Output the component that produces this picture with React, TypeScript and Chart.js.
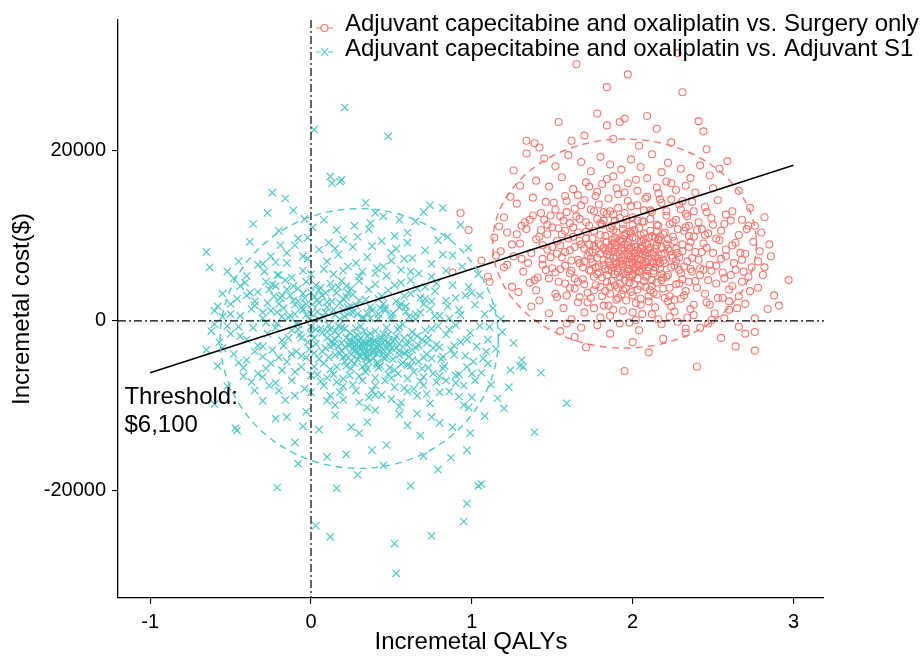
import React, { useEffect, useRef } from "react";
import { Chart, registerables } from "chart.js";

Chart.register(...registerables);

// ---------------- data ----------------
const seriesLabels = [
  "Adjuvant capecitabine and oxaliplatin vs. Surgery only",
  "Adjuvant capecitabine and oxaliplatin vs. Adjuvant S1",
];
const seriesColors = ["#F8766D", "#4FC8C8"];

const xTicks = [-1, 0, 1, 2, 3];
const yTicks = [-20000, 0, 20000];
const xRange = [-1.2, 3.19];
const yRange = [-32600, 35400];

const thresholdX = [-1, 3];
const thresholdY = [-6100, 18300];
const thresholdLabel = ["Threshold:", "$6,100"];
const thresholdLabelPos = [-1.16, -10600];

const referenceX = [0];
const referenceY = [0];

// confidence ellipses: [centerX, centerY, radiusX, radiusY]
const ellipseSurgery = [1.95, 9100, 0.82, 12300];
const ellipseS1 = [0.3, -2070, 0.865, 15280];

// incremental QALY, incremental cost ($)
const surgeryPoints: number[][] = [
  [1.84,27500],[2.31,26900],[1.78,24400],[1.54,23400],[2.09,24100],[2.41,23500],[1.95,23800],[1.92,23400],[1.84,23000],[2.44,22300],
  [1.34,21200],[1.39,20900],[1.70,21800],[2.24,21000],[2.46,20200],[1.42,20400],[1.65,30200],[1.97,29000],[2.28,31500],[1.62,21200],
  [2.04,20600],[1.88,21400],[2.15,22600],
  [1.34,19700],[2.59,18800],[2.54,17900],[1.26,17700],[1.45,19100],[1.52,18200],[1.60,19500],[1.68,18700],[1.74,17600],[1.80,19300],
  [1.86,18400],[1.93,17800],[1.99,19000],[2.05,18100],[2.12,19600],[2.18,17500],[2.22,18600],[2.30,17900],[2.36,16800],[2.42,18300],
  [2.48,17100],[1.40,16500],[1.48,15800],[1.56,16900],[1.63,15500],[1.71,16300],[1.78,15200],[1.84,16700],[1.90,15600],[1.97,16200],
  [2.03,15300],[2.09,16800],[2.15,15700],[2.21,16400],[2.27,15400],[2.33,15900],[2.39,15100],[2.50,15600],[2.66,15300],[1.30,15900],
  [1.20,12200],[1.28,13800],[1.33,11600],[1.38,14500],[1.43,12700],[1.47,11300],[1.51,13900],[1.55,12300],[1.58,14700],[1.61,11500],
  [1.64,13200],[1.67,12000],[1.70,14200],[1.73,11200],[1.76,12900],[1.79,13700],[1.82,11800],[1.85,14400],[1.88,12500],[1.91,13300],
  [1.94,11400],[1.97,14100],[2.00,12200],[2.03,13600],[2.06,11700],[2.09,14600],[2.12,12800],[2.15,11300],[2.18,13900],[2.21,12400],
  [2.24,14300],[2.27,11900],[2.30,13100],[2.33,12600],[2.37,14000],[2.41,11600],[2.45,13400],[2.49,12100],[2.53,14200],[2.57,11400],
  [2.62,12900],[2.68,11900],[2.73,13300],[2.82,12200],[1.24,14600],[1.36,11900],[1.59,12800],[1.86,12900],[2.11,13000],[2.35,11200],
  [1.06,7100],[1.14,9800],[1.18,8200],[1.22,10400],[1.26,7600],[1.30,9100],[1.34,10800],[1.37,8000],[1.40,9600],[1.44,7300],
  [1.47,10200],[1.50,8700],[1.53,9400],[1.56,7500],[1.58,10600],[1.61,8300],[1.63,9900],[1.66,7200],[1.68,9000],[1.71,10500],
  [1.73,8100],[1.75,9700],[1.78,7400],[1.80,10100],[1.82,8600],[1.84,9300],[1.86,7700],[1.88,10700],[1.90,8900],[1.92,9500],
  [1.94,7100],[1.96,10300],[1.98,8400],[2.00,9800],[2.02,7600],[2.04,10900],[2.06,8800],[2.08,9200],[2.10,7300],[2.12,10000],
  [2.14,8500],[2.16,9600],[2.18,7800],[2.20,10400],[2.23,8200],[2.26,9400],[2.29,7500],[2.32,10600],[2.35,8700],[2.38,9900],
  [2.41,7200],[2.44,9100],[2.47,10300],[2.50,8000],[2.54,9500],[2.58,7600],[2.62,8900],[2.66,10100],[2.70,7900],[2.75,9300],
  [2.85,9000],[2.79,8200],[1.70,8500],[1.76,8800],[1.85,8200],[1.93,8600],[1.97,7900],[2.03,8300],[2.09,8000],[2.15,8900],
  [1.79,9100],[1.89,9800],[1.99,10300],[2.07,9600],[1.64,8700],[1.55,8900],[2.22,8500],[2.31,9000],[1.95,9000],[2.01,8700],
  [1.10,5200],[1.11,4600],[1.36,4500],[1.29,3400],[0.88,5700],[1.20,6300],[1.25,4000],[1.32,5800],[1.40,3600],[1.44,6600],
  [1.48,5000],[1.52,3200],[1.55,6100],[1.58,4400],[1.61,5600],[1.64,3800],[1.67,6800],[1.69,4900],[1.72,3300],[1.74,5900],
  [1.77,4200],[1.79,6400],[1.81,5100],[1.83,3500],[1.85,6000],[1.87,4700],[1.89,5500],[1.91,3900],[1.93,6700],[1.95,4800],
  [1.97,5800],[1.99,3400],[2.01,6200],[2.03,5000],[2.05,4100],[2.07,6500],[2.09,5300],[2.11,3600],[2.13,5900],[2.15,4500],
  [2.17,6800],[2.19,3800],[2.21,5200],[2.24,6300],[2.27,4300],[2.30,5600],[2.33,3500],[2.36,6100],[2.39,4700],[2.42,5400],
  [2.45,3200],[2.48,6600],[2.52,4400],[2.56,5700],[2.60,3700],[2.64,6000],[2.68,4600],[2.72,5200],[2.78,3900],[2.97,4800],
  [1.88,6300],[1.94,5600],[2.00,5500],[2.06,6100],[1.98,6600],[2.04,5900],[1.84,5400],[2.12,4800],[1.76,5200],[2.18,5500],
  [1.92,4400],[1.96,3800],[2.08,4000],[2.14,6300],[1.86,4000],
  [2.91,1800],[2.84,1400],[1.59,-300],[2.66,-700],[2.49,100],[2.23,500],[2.02,100],[1.42,2400],[1.48,900],[1.53,2800],
  [1.57,1500],[1.62,200],[1.66,2200],[1.70,1000],[1.74,2700],[1.78,-500],[1.82,1800],[1.86,600],[1.90,2500],[1.94,1200],
  [1.98,-200],[2.02,2100],[2.06,800],[2.10,2900],[2.14,1600],[2.18,-400],[2.22,2300],[2.26,1100],[2.30,2600],[2.34,400],
  [2.38,1900],[2.42,-800],[2.46,2200],[2.51,900],[2.56,2700],[2.60,1300],[2.70,2000],[2.76,300],[1.37,1700],[2.33,-900],
  [2.76,-1300],[2.76,-3500],[2.40,-5400],[1.95,-5900],[2.10,-3700],[1.71,-3100],[1.64,-1900],[2.00,-2500],[2.33,-1400],[2.19,-2100],
  [1.86,-1500],[2.55,-2000],[2.64,-3000],[1.55,-1200],[0.93,12700],[0.98,10700],
  [1.57,11800],[1.60,9700],[1.62,7100],[1.65,12300],[1.67,9400],[1.69,6300],[1.71,11600],[1.72,7700],[1.74,13100],[1.75,6900],
  [1.76,10600],[1.77,8400],[1.78,12000],[1.79,5700],[1.80,8900],[1.81,11300],[1.82,7200],[1.83,10000],[1.83,6100],[1.84,12600],
  [1.85,8600],[1.86,10900],[1.87,5900],[1.87,9000],[1.88,7400],[1.89,11800],[1.90,6700],[1.90,10400],[1.91,8100],[1.92,5200],
  [1.92,12100],[1.93,9300],[1.94,6400],[1.94,10800],[1.95,7800],[1.96,5500],[1.96,11900],[1.97,8900],[1.98,6900],[1.98,10500],
  [1.99,7500],[2.00,5300],[2.00,11300],[2.01,8000],[2.02,6300],[2.02,9700],[2.03,7300],[2.04,5800],[2.05,10100],[2.05,8500],
  [2.06,6700],[2.07,11700],[2.08,7700],[2.08,5200],[2.09,9000],[2.10,6300],[2.11,10600],[2.12,7900],[2.13,5600],[2.14,9800],
  [2.15,7000],[2.16,11200],[2.17,6100],[2.18,8700],[2.19,10200],[2.20,6800],[2.21,9000],[2.22,5400],[2.23,11400],[2.24,7700],
  [2.25,9900],[2.26,6500],[2.27,8500],[2.28,10800],[2.29,6000],[2.31,8200],[2.33,11000],[2.34,7000],[2.36,9300],[2.37,5800],
  [1.58,6500],[1.61,3900],[1.64,5000],[1.67,2800],[1.70,4300],[1.73,6000],[1.76,3600],[1.78,5500],[1.81,2900],[1.84,4600],
  [1.86,3200],[1.89,4200],[1.91,2700],[1.94,3600],[1.96,2400],[1.98,4500],[2.00,3000],[2.03,3700],[2.05,2600],[2.07,4700],
  [2.10,2300],[2.12,4100],[2.15,3100],[2.18,4800],[2.20,2700],[2.23,3900],[2.26,2500],[2.29,4400],[2.32,3000],[2.35,4600],
  [1.50,11000],[1.53,7900],[1.47,8400],[1.45,11900],[1.42,9900],[1.52,13100],[1.59,14100],[1.66,14800],[1.73,15800],[1.81,16100],
  [1.88,17000],[1.95,15100],[2.02,16600],[2.08,14400],[2.16,15000],[2.24,16200],[2.31,14100],[2.38,12900],[2.43,10800],[2.46,8600],
  [2.50,11300],[2.52,6500],[2.55,10600],[2.58,8400],[2.61,11800],[2.63,6800],[2.67,8000],[2.71,10800],[2.74,6300],[2.80,10400],
  [1.25,9000],[1.31,11200],[1.35,6800],[1.38,12400],[1.41,5100],[1.46,14000],[1.50,6200],[1.54,4600],[2.40,3900],[2.44,6000],
  [2.47,4800],[2.53,2700],[2.57,5000],[2.62,4100],[2.66,2900],[2.69,5800],[2.73,3500],[2.82,6300],[2.88,3000],[2.70,-1500],
  [1.85,7000],[1.88,8100],[1.91,6200],[1.93,7400],[1.97,9300],[2.00,6800],[2.02,8700],[2.05,7200],[2.07,8200],[2.10,9800],
  [1.80,7900],[1.82,6600],[1.87,9500],[1.95,8300],[2.04,6500],[2.13,8100],[2.16,7300],[2.20,8000],[1.74,7300],[1.71,9700],
  [1.44,8900],[1.49,12400],[1.52,5700],[1.56,10200],[1.59,3000],[1.63,11000],[1.66,4600],[1.68,13600],[1.72,2200],[1.75,8100],
  [1.77,14700],[1.80,4000],[1.82,12800],[1.85,1800],[1.87,11200],[1.89,6800],[1.91,14900],[1.93,3100],[1.95,12700],[1.97,6100],
  [1.99,13500],[2.01,4300],[2.03,11800],[2.05,1900],[2.07,13000],[2.09,6900],[2.11,12000],[2.13,3300],[2.15,10500],[2.17,14300],
  [2.19,5100],[2.21,12900],[2.23,2900],[2.25,11600],[2.27,7000],[2.29,13700],[2.31,4900],[2.34,12300],[2.37,7400],[2.40,10700],
  [2.43,8100],[2.46,12800],[2.49,5900],[2.52,9700],[2.55,7300],[2.58,12500],[2.61,5400],[2.64,9200],[2.68,7200],[2.72,11200],
  [1.62,5900],[1.66,10400],[1.70,7000],[1.73,9000],[1.77,6300],[1.80,11500],[1.83,8300],[1.86,6500],[1.89,9200],[1.92,7000],
  [1.95,10100],[1.98,7700],[2.01,10700],[2.04,7900],[2.07,10300],[2.10,8400],[2.13,6800],[2.16,9500],[2.19,7100],[2.22,9600],
  [2.25,7400],[2.28,8000],[2.32,6400],[2.35,10000],[2.39,8100],[2.42,6200],[2.45,10100],[1.58,8100],[1.54,10900],[1.49,7500],
  [1.90,7600],[1.93,8300],[1.96,6600],[1.99,8700],[2.02,5900],[2.05,9400],[2.08,6900],[2.11,8600],[2.14,7600],[2.17,9900],
  [1.94,9600],[1.89,8600],[1.84,7800],[2.00,7200],[2.06,7800],[1.91,5700],[1.98,5100],[2.03,6600],[2.09,5900],[2.12,6900],
  [1.31,7300],[1.28,10200],[1.39,4800],[1.43,10700],[1.46,6000],[1.22,6600],[1.17,11100],[1.15,7700],[2.78,7000],[2.76,11200],
  [2.81,5400],[2.86,7600],[2.65,1500],[2.57,300],[2.47,-300],[2.38,700],[2.28,-100],[2.16,200],[2.04,-1100],[1.92,-300],
  [1.80,400],[1.68,-800],[1.76,1500],[1.88,1300],[2.00,1000],[2.12,800],[2.24,1700],[2.36,1400],[2.48,1900],[2.60,2300],
];

const s1Points: number[][] = [
  [0.21,25100],[0.48,21700],[0.02,22500],[0.12,17000],[0.18,16400],[0.19,16600],[-0.24,15100],[-0.16,14400],[-0.11,13000],[-0.27,12700],
  [-0.04,12000],[0.74,13600],[0.82,13300],[0.40,12700],[0.55,11900],[0.65,11700],[0.45,12300],[0.01,11000],[0.93,11300],[0.13,16200],
  [0.34,13900],[-0.36,11400],[0.27,11200],[0.60,10400],[0.16,10700],[0.70,12800],
  [-0.65,8100],[-0.63,6300],[-0.52,5800],[-0.29,5800],[-0.19,8900],[-0.10,8900],[0.20,9600],[0.26,8700],[-0.45,7000],[-0.38,9300],
  [-0.33,6600],[-0.25,7600],[-0.21,5400],[-0.15,6800],[-0.08,9700],[-0.05,5900],[-0.02,7300],[0.05,8400],[0.08,6100],[0.11,9200],
  [0.14,5500],[0.17,7800],[0.23,6400],[0.29,9900],[0.32,5800],[0.35,7500],[0.38,8800],[0.41,6200],[0.44,9400],[0.47,5300],
  [0.50,7100],[0.53,8500],[0.56,6000],[0.60,9200],[0.63,7400],[0.67,5600],[0.71,8300],[0.75,6700],[0.79,9500],[0.84,5900],
  [0.88,7700],[0.94,6400],[0.98,8600],[1.04,5500],[-0.40,5300],[-0.12,5100],[0.30,5200],
  [-0.58,1700],[-0.44,4100],[-0.55,3200],[-0.50,800],[-0.46,2600],[-0.41,4500],[-0.37,1400],[-0.33,3400],[-0.30,300],[-0.27,2100],
  [-0.24,4300],[-0.21,1000],[-0.18,3000],[-0.16,4800],[-0.13,600],[-0.11,2400],[-0.08,3800],[-0.06,1600],[-0.03,4600],[-0.01,200],
  [0.02,2800],[0.04,1100],[0.06,3900],[0.08,500],[0.10,2200],[0.12,4400],[0.14,1300],[0.16,3300],[0.18,200],[0.20,2600],
  [0.22,4100],[0.24,900],[0.26,3100],[0.28,1800],[0.30,4700],[0.32,400],[0.34,2500],[0.36,3700],[0.38,1200],[0.40,4300],
  [0.42,300],[0.44,2900],[0.46,1500],[0.48,3600],[0.50,700],[0.53,2300],[0.56,4500],[0.59,1100],[0.62,3200],[0.65,200],
  [0.68,2700],[0.71,4000],[0.74,1400],[0.77,3500],[0.80,600],[0.84,2400],[0.88,4200],[0.92,1300],[0.96,3000],[0.98,4000],
  [1.02,1900],[1.08,800],[1.13,1500],[-0.05,1300],[0.00,3400],[0.05,2100],[-0.10,800],[-0.20,2000],[0.15,700],[0.25,1700],
  [0.35,900],[0.45,2000],[0.55,1600],[-0.15,3700],[0.09,3300],[-0.26,3700],[0.19,4700],[0.66,3800],[-0.35,2300],[0.86,300],
  [-0.65,-3400],[-0.62,-1200],[-0.57,-2500],[-0.52,-600],[-0.48,-3900],[-0.44,-1800],[-0.40,-4600],[-0.36,-800],[-0.33,-2900],[-0.30,-4200],
  [-0.27,-1500],[-0.24,-3400],[-0.21,-300],[-0.18,-2300],[-0.15,-4800],[-0.12,-1100],[-0.09,-3600],[-0.06,-2000],[-0.03,-4300],[0.00,-700],
  [0.03,-2700],[0.05,-4500],[0.07,-1400],[0.09,-3200],[0.11,-500],[0.13,-2400],[0.15,-4000],[0.17,-1700],[0.19,-3500],[0.21,-900],
  [0.23,-2800],[0.25,-4700],[0.27,-1900],[0.29,-3700],[0.31,-600],[0.33,-2600],[0.35,-4400],[0.37,-1500],[0.39,-3300],[0.41,-4900],
  [0.43,-2100],[0.45,-3800],[0.47,-800],[0.49,-2900],[0.51,-4500],[0.53,-1800],[0.55,-3500],[0.57,-400],[0.59,-2700],[0.61,-4200],
  [0.63,-1300],[0.65,-3100],[0.67,-4800],[0.69,-2200],[0.72,-3900],[0.75,-900],[0.78,-2800],[0.81,-4500],[0.84,-1600],[0.87,-3400],
  [0.90,-500],[0.93,-2500],[0.96,-4100],[0.99,-1400],[1.03,-3000],[1.07,-4400],[1.19,-1300],[1.26,-2600],[1.11,-700],[0.30,-2300],
  [0.33,-3100],[0.36,-2900],[0.38,-3800],[0.34,-4100],[0.28,-2800],[0.40,-2400],[0.26,-3300],[0.42,-3500],[0.24,-2200],[0.31,-4200],
  [0.44,-2700],[0.20,-4300],[0.46,-4400],[0.10,-2000],[0.62,-2000],[-0.08,-1000],[0.72,-2600],[0.52,-2200],[0.17,-600],[0.58,-3800],
  [1.32,-5400],[1.24,-5800],[1.23,-7800],[1.16,-9100],[1.30,-5300],[1.31,-4600],[1.43,-6100],[-0.42,-6500],[-0.35,-8200],[-0.28,-5600],
  [-0.22,-7300],[-0.16,-9300],[-0.10,-6000],[-0.04,-8000],[0.02,-5400],[0.06,-7100],[0.10,-9400],[0.14,-6300],[0.18,-8400],[0.22,-5300],
  [0.26,-7500],[0.30,-9600],[0.34,-6000],[0.38,-8200],[0.42,-5500],[0.46,-7000],[0.50,-9200],[0.54,-6200],[0.58,-7900],[0.62,-5300],
  [0.66,-8800],[0.70,-6600],[0.74,-9700],[0.78,-7200],[0.82,-5600],[0.86,-8300],[0.90,-6400],[0.95,-7600],[1.00,-9000],[1.06,-6100],
  [1.12,-7500],[0.32,-5400],[0.40,-6700],[0.20,-6800],[0.56,-5100],[0.12,-5700],
  [-0.47,-12600],[-0.21,-19600],[0.03,-24100],[0.12,-25400],[0.52,-26200],[0.53,-29700],[0.75,-25300],[0.95,-23600],[0.97,-21500],[1.04,-19400],
  [1.06,-19200],[0.97,-15200],[1.39,-13100],[1.59,-9700],[0.16,-19700],[0.29,-18100],[0.62,-19400],[0.79,-17500],[0.88,-12500],[0.99,-13200],
  [-0.46,-12900],[0.87,-16100],[-0.10,-14300],[0.05,-12800],[0.22,-15700],[0.35,-11900],[0.47,-14600],[0.60,-12300],[0.70,-15900],[-0.03,-10700],
  [0.15,-11100],[0.40,-10500],[-0.22,-11500],[0.66,-10900],[1.08,-11200],[-0.60,-9800],[-0.08,-16800],[0.38,-15200],
  [-0.25,1200],[-0.22,-800],[-0.19,2700],[-0.17,-2900],[-0.14,400],[-0.12,-3900],[-0.10,1900],[-0.07,-1600],[-0.05,3200],[-0.02,-2500],
  [0.00,900],[0.02,-3800],[0.04,2500],[0.06,-900],[0.08,-5000],[0.10,1600],[0.12,-3000],[0.13,3800],[0.15,-1200],[0.16,-5400],
  [0.18,2100],[0.19,-2600],[0.21,500],[0.22,-4100],[0.23,3300],[0.24,-1400],[0.25,-5600],[0.26,1000],[0.27,-3000],[0.28,-900],
  [0.29,-4500],[0.30,2400],[0.31,-2000],[0.32,-3600],[0.33,300],[0.34,-5100],[0.35,-1800],[0.36,-3400],[0.37,1600],[0.38,-2600],
  [0.39,-4400],[0.40,-1200],[0.41,-3100],[0.42,800],[0.43,-5300],[0.44,-2000],[0.45,-3400],[0.46,1200],[0.47,-4200],[0.48,-1600],
  [0.49,-3600],[0.50,300],[0.51,-2400],[0.52,-5800],[0.54,-1000],[0.55,-4000],[0.56,2000],[0.58,-2000],[0.60,-5200],[0.61,500],
  [0.63,-3400],[0.64,-6000],[0.66,-1800],[0.68,1000],[0.70,-4300],[0.71,-1100],[0.73,-5500],[0.75,2300],[0.76,-3200],[0.79,-600],
  [0.82,-4200],[0.85,1700],[0.89,-2900],[0.92,-6300],[-0.30,-3000],[-0.35,1800],[-0.40,-2200],[-0.44,600],[-0.38,3300],[-0.28,4600],
  [-0.45,-4900],[-0.50,-1500],[-0.55,500],[-0.60,-400],[-0.48,5000],[-0.33,-6200],[-0.26,-7600],[-0.18,-5800],[-0.12,-7000],[-0.06,-5400],
  [0.00,-8400],[0.04,-6300],[0.08,-7600],[0.12,-8800],[0.16,-7200],[0.20,-9300],[0.24,-6400],[0.28,-8200],[0.32,-7000],[0.36,-9000],
  [0.40,-7600],[0.44,-8700],[0.48,-6300],[0.52,-7800],[0.56,-9600],[0.60,-6800],[0.64,-8000],[0.68,-7100],[0.72,-8600],[0.76,-6200],
  [0.80,-8400],[0.84,-7000],[0.92,-8900],[0.97,-5400],[1.02,-7000],[1.10,-5000],[1.15,-3300],[1.18,200],[1.05,3000],[0.98,-10200],
  [0.28,-3400],[0.32,-2900],[0.35,-3700],[0.30,-4100],[0.37,-2200],[0.34,-2600],[0.38,-3100],[0.41,-3900],[0.27,-2500],[0.25,-3900],
  [0.22,-2000],[0.43,-2900],[0.46,-2300],[0.36,-4800],[0.29,-1700],[0.18,-3800],[0.14,-2800],[0.50,-3200],[0.55,-2700],[0.60,-3600],
  [0.05,200],[0.00,-1500],[-0.03,700],[-0.08,2300],[0.03,4200],[0.10,-1300],[0.20,1200],[0.25,3800],[0.42,2600],[0.52,4200],
  [0.58,2900],[0.70,2000],[0.78,4400],[0.62,5800],[0.45,6400],[0.15,8500],[-0.05,7600],[-0.22,6900],[0.36,10800],[0.08,11900],
  [-0.20,10600],[0.52,10000],[0.85,9900],[1.00,3300],[1.10,-2200],[-0.58,-5300],[-0.52,-7700],[-0.15,-11300],[0.25,-12500],[0.55,-11000],
  [0.80,-12000],[0.45,-17000],[0.10,-16000],[-0.30,-9400],[0.95,-9900],[1.20,-10300],[0.68,-13500],[0.30,-13200],
  [-0.28,-200],[-0.23,2900],[-0.20,-4300],[-0.17,1500],[-0.14,-2000],[-0.11,4100],[-0.09,-300],[-0.06,-4100],[-0.04,2700],[-0.01,-3300],
  [0.01,1900],[0.03,-1000],[0.05,3600],[0.07,-3600],[0.09,1000],[0.11,-4300],[0.13,2300],[0.15,-2200],[0.17,4000],[0.19,-800],
  [0.21,-4800],[0.23,1600],[0.25,-2600],[0.27,-5000],[0.29,800],[0.31,-3300],[0.33,-1200],[0.35,-5600],[0.37,300],[0.39,-2300],
  [0.41,-5200],[0.43,1500],[0.45,-1500],[0.47,-3000],[0.49,-5500],[0.51,900],[0.53,-3200],[0.55,-700],[0.57,-4900],[0.59,1700],
  [0.61,-2600],[0.63,-4600],[0.65,800],[0.67,-2900],[0.69,-5600],[0.71,2600],[0.73,-2000],[0.75,-4400],[0.77,600],[0.80,-3100],
  [0.83,-5300],[0.86,-1000],[0.89,-4000],[0.93,700],[0.97,-2200],[1.01,-4800],[1.05,-600],[1.09,-3600],[0.30,-3000],[0.33,-3800],
  [0.36,-2500],[0.39,-3700],[0.27,-3600],[0.24,-2900],[0.42,-2700],[0.45,-4300],[0.21,-3100],[0.48,-2500],[0.35,-4200],[0.31,-2700],
  [-0.18,500],[-0.13,3000],[-0.08,-400],[-0.03,2000],[0.02,-2000],[0.07,3000],[0.12,-1000],[0.17,-3000],[0.22,2800],[-0.22,4100],
  [-0.50,2000],[-0.45,-700],[-0.40,3000],[-0.35,-3600],[-0.30,1000],[-0.25,-5000],[-0.20,5400],[-0.55,-3200],[-0.60,1200],[-0.42,-5500],
  [-0.37,-7200],[-0.30,-6600],[-0.20,-8200],[-0.10,-8800],[0.00,-6400],[0.10,-6700],[0.20,-7700],[0.30,-6500],[0.40,-8700],[0.50,-6700],
  [0.60,-8300],[0.70,-7600],[0.80,-6500],[0.90,-7300],[1.00,-6200],[0.35,-10200],[0.15,-9900],[0.55,-10100],[0.75,-11300],[-0.05,-12400],
  [0.62,4800],[0.40,5600],[0.20,5900],[0.00,5500],[-0.30,6700],[0.75,5200],[0.90,2700],[0.50,8000],[0.10,7000],[-0.15,8000],
  [0.28,6800],[0.58,7300],[0.82,7800],[-0.02,9800],[0.37,11500],
];

// ---------------- styling ----------------
const FONT = "'Liberation Sans', Arial, Helvetica, sans-serif";

const overlayPlugin = {
  id: "overlay",
  afterDatasetsDraw(chart: any) {
    const { ctx, chartArea, scales } = chart;
    const xs = scales.x;
    const ys = scales.y;
    ctx.save();
    ctx.beginPath();
    ctx.rect(chartArea.left, chartArea.top, chartArea.right - chartArea.left, chartArea.bottom - chartArea.top);
    ctx.clip();
    const ells = [ellipseSurgery, ellipseS1];
    ells.forEach((e, i) => {
      const cx = xs.getPixelForValue(e[0]);
      const cy = ys.getPixelForValue(e[1]);
      const rx = Math.abs(xs.getPixelForValue(e[0] + e[2]) - cx);
      const ry = Math.abs(ys.getPixelForValue(e[1] + e[3]) - cy);
      ctx.beginPath();
      ctx.ellipse(cx, cy, rx, ry, 0, 0, Math.PI * 2);
      ctx.strokeStyle = seriesColors[i];
      ctx.lineWidth = 1.4;
      ctx.setLineDash([7, 5]);
      ctx.stroke();
    });
    ctx.strokeStyle = "#000";
    ctx.lineWidth = 1.2;
    ctx.setLineDash([8, 3, 2, 3]);
    referenceX.forEach((v) => {
      const px = xs.getPixelForValue(v);
      ctx.beginPath();
      ctx.moveTo(px, chartArea.top);
      ctx.lineTo(px, chartArea.bottom);
      ctx.stroke();
    });
    referenceY.forEach((v) => {
      const py = ys.getPixelForValue(v);
      ctx.beginPath();
      ctx.moveTo(chartArea.left, py);
      ctx.lineTo(chartArea.right, py);
      ctx.stroke();
    });
    ctx.restore();
  },
  afterDraw(chart: any) {
    const { ctx, scales } = chart;
    ctx.save();
    ctx.fillStyle = "#000";
    ctx.font = `24px ${FONT}`;
    ctx.textAlign = "left";
    ctx.textBaseline = "middle";
    const ax = scales.x.getPixelForValue(thresholdLabelPos[0]);
    const ay = scales.y.getPixelForValue(thresholdLabelPos[1]);
    const lh = 28;
    thresholdLabel.forEach((t, i) => {
      ctx.fillText(t, ax, ay + (i - (thresholdLabel.length - 1) / 2) * lh);
    });
    // legend
    const lx = 316;
    const textY = [24, 49];
    const keyY = [28, 52];
    seriesLabels.forEach((label, i) => {
      const y = keyY[i];
      const col = seriesColors[i];
      ctx.strokeStyle = col;
      ctx.lineWidth = 1.2;
      ctx.setLineDash([]);
      ctx.beginPath();
      ctx.moveTo(lx, y);
      ctx.lineTo(lx + 5, y);
      ctx.moveTo(lx + 12, y);
      ctx.lineTo(lx + 17, y);
      ctx.stroke();
      const mx = lx + 8.5;
      ctx.beginPath();
      if (i === 0) {
        ctx.arc(mx, y, 3.5, 0, Math.PI * 2);
      } else {
        ctx.moveTo(mx - 3.6, y - 3.6);
        ctx.lineTo(mx + 3.6, y + 3.6);
        ctx.moveTo(mx + 3.6, y - 3.6);
        ctx.lineTo(mx - 3.6, y + 3.6);
      }
      ctx.stroke();
      ctx.fillStyle = "#000";
      ctx.font = `24px ${FONT}`;
      ctx.textAlign = "left";
      ctx.textBaseline = "middle";
      ctx.fillText(label, lx + 29, textY[i]);
    });
    ctx.restore();
  },
};

export default function App() {
  const canvasRef = useRef<HTMLCanvasElement | null>(null);

  useEffect(() => {
    const canvas = canvasRef.current;
    if (!canvas) return;
    const chart = new Chart(canvas, {
      type: "scatter",
      data: {
        datasets: [
          {
            type: "line",
            label: "Threshold",
            data: thresholdX.map((x, i) => ({ x, y: thresholdY[i] })),
            borderColor: "#000",
            borderWidth: 1.6,
            pointRadius: 0,
            fill: false,
            order: 0,
          } as any,
          {
            label: seriesLabels[1],
            data: s1Points.map((p) => ({ x: p[0], y: p[1] })),
            pointStyle: "crossRot",
            pointRadius: 5.2,
            pointHoverRadius: 5.2,
            borderColor: seriesColors[1],
            backgroundColor: seriesColors[1],
            hoverBorderColor: seriesColors[1],
            hoverBackgroundColor: seriesColors[1],
            borderWidth: 1.2,
            order: 1,
          },
          {
            label: seriesLabels[0],
            data: surgeryPoints.map((p) => ({ x: p[0], y: p[1] })),
            pointStyle: "circle",
            pointRadius: 3.5,
            pointHoverRadius: 3.5,
            borderColor: seriesColors[0],
            backgroundColor: "rgba(0,0,0,0)",
            hoverBorderColor: seriesColors[0],
            hoverBackgroundColor: "rgba(0,0,0,0)",
            borderWidth: 1.1,
            order: 2,
          },
        ],
      },
      options: {
        animation: false,
        responsive: false,
        devicePixelRatio: 1,
        events: [],
        layout: { padding: { top: 20, right: 100, left: 0, bottom: 0 } },
        plugins: {
          legend: { display: false },
          tooltip: { enabled: false },
        },
        scales: {
          x: {
            type: "linear",
            min: xRange[0],
            max: xRange[1],
            afterBuildTicks: (scale: any) => {
              scale.ticks = xTicks.map((v) => ({ value: v }));
            },
            afterFit: (scale: any) => {
              scale.height = 60;
            },
            ticks: {
              callback: (v: any) => String(v),
              font: { family: FONT, size: 20 },
              color: "#000",
              padding: 6,
              maxRotation: 0,
            },
            grid: {
              display: true,
              drawOnChartArea: false,
              drawTicks: true,
              tickLength: 6,
              color: "#000",
              lineWidth: 1.1,
            },
            border: { display: true, color: "#000", width: 1.3 },
            title: {
              display: true,
              text: "Incremetal QALYs",
              font: { family: FONT, size: 24 },
              color: "#000",
              padding: { top: 0, bottom: 1 },
            },
          },
          y: {
            type: "linear",
            min: yRange[0],
            max: yRange[1],
            afterBuildTicks: (scale: any) => {
              scale.ticks = yTicks.map((v) => ({ value: v }));
            },
            afterFit: (scale: any) => {
              scale.width = 118;
            },
            ticks: {
              callback: (v: any) => String(v),
              font: { family: FONT, size: 20 },
              color: "#000",
              padding: 6,
            },
            grid: {
              display: true,
              drawOnChartArea: false,
              drawTicks: true,
              tickLength: 6,
              color: "#000",
              lineWidth: 1.1,
            },
            border: { display: true, color: "#000", width: 1.3 },
            title: {
              display: true,
              text: "Incremetal cost($)",
              font: { family: FONT, size: 24 },
              color: "#000",
              padding: { top: 8, bottom: 0 },
            },
          },
        },
      },
      plugins: [overlayPlugin],
    });
    return () => {
      chart.destroy();
    };
  }, []);

  return (
    <div style={{ position: "absolute", left: 0, top: 0, width: 924, height: 658, background: "#fff" }}>
      <canvas ref={canvasRef} width={924} height={658} style={{ width: 924, height: 658, display: "block" }} />
    </div>
  );
}
